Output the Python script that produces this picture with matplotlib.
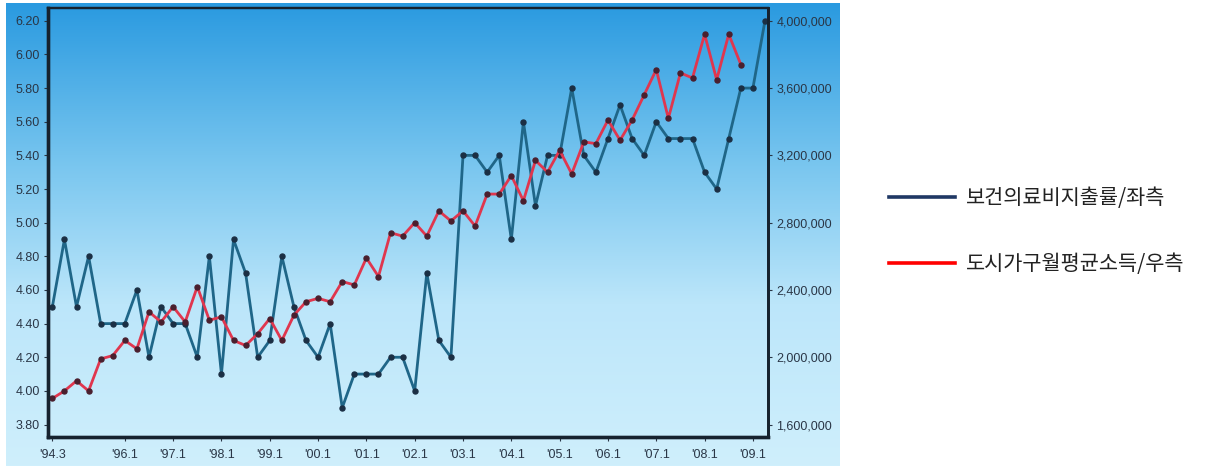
import numpy as np
import matplotlib
matplotlib.use("Agg")
import matplotlib.pyplot as plt
from matplotlib.colors import LinearSegmentedColormap
from matplotlib.ticker import FuncFormatter

plt.rcParams['font.family'] = ['Liberation Sans', 'Noto Sans CJK KR', 'DejaVu Sans']

# Quarterly series, '94.3 through '09.2
quarters = ["'94.3", "'94.4"] + ["'%02d.%d" % (y % 100, q)
                                 for y in range(1995, 2010) for q in (1, 2, 3, 4)]
quarters = quarters[:60]

# health/medical spending share (%), left axis
health_ratio = [4.50, 4.90, 4.50, 4.80, 4.40, 4.40, 4.40, 4.60, 4.20, 4.50,
                4.40, 4.40, 4.20, 4.80, 4.10, 4.90, 4.70, 4.20, 4.30, 4.80,
                4.50, 4.30, 4.20, 4.40, 3.90, 4.10, 4.10, 4.10, 4.20, 4.20,
                4.00, 4.70, 4.30, 4.20, 5.40, 5.40, 5.30, 5.40, 4.90, 5.60,
                5.10, 5.40, 5.40, 5.80, 5.40, 5.30, 5.50, 5.70, 5.50, 5.40,
                5.60, 5.50, 5.50, 5.50, 5.30, 5.20, 5.50, 5.80, 5.80, 6.20]

# urban household average monthly income (won), right axis
income = [1755000, 1800000, 1860000, 1800000, 1990000, 2010000, 2100000, 2050000,
          2270000, 2210000, 2300000, 2210000, 2420000, 2220000, 2240000, 2100000,
          2070000, 2140000, 2230000, 2100000, 2250000, 2330000, 2350000, 2330000,
          2450000, 2430000, 2590000, 2480000, 2740000, 2720000, 2800000, 2720000,
          2870000, 2810000, 2870000, 2780000, 2970000, 2970000, 3080000, 2930000,
          3170000, 3100000, 3230000, 3090000, 3280000, 3270000, 3410000, 3290000,
          3410000, 3560000, 3710000, 3420000, 3690000, 3660000, 3920000, 3650000,
          3920000, 3740000]

left_ticks = [3.80, 4.00, 4.20, 4.40, 4.60, 4.80, 5.00, 5.20, 5.40, 5.60, 5.80, 6.00, 6.20]
right_ticks = [1600000, 2000000, 2400000, 2800000, 3200000, 3600000, 4000000]
xtick_labels = ["'94.3", "'96.1", "'97.1", "'98.1", "'99.1", "'00.1",
                "'01.1", "'02.1", "'03.1", "'04.1", "'05.1", "'06.1",
                "'07.1", "'08.1", "'09.1"]

W, H = 1213, 466
fig = plt.figure(figsize=(W / 100, H / 100), dpi=100)

# sky gradient behind the chart panel
bg = fig.add_axes([6 / W, 0, (840 - 6) / W, (H - 3) / H])
sky = LinearSegmentedColormap.from_list(
    'sky', [(0.0, '#cfeffc'), (0.35, '#bce6fa'), (0.65, '#79c6ef'), (1.0, '#2a9ae0')])
bg.imshow(np.linspace(0, 1, 256).reshape(-1, 1), aspect='auto', cmap=sky,
          origin='lower', extent=[0, 1, 0, 1])
bg.set_axis_off()

ax = fig.add_axes([48 / W, 1 - 437 / H, (768 - 48) / W, (437 - 8) / H])
ax.set_facecolor('none')
ax2 = ax.twinx()

x = np.arange(len(quarters))
tick_col = '#2a3646'
frame_col = '#16222e'

ax.plot(x, health_ratio, color='#1f6688', lw=2.0, marker='o', ms=3.6,
        mfc='#1b2f44', mec='#1b2f44', zorder=3)
ax2.plot(x[:len(income)], income, color='#e0364e', lw=2.0, marker='o', ms=3.6,
         mfc='#4a1f2e', mec='#4a1f2e', zorder=2)

ax.set_xlim(-0.36, 59.25)
ax.set_ylim(3.726, 6.276)
ax2.set_ylim(1526000, 4076000)

ax.set_yticks(left_ticks)
ax.yaxis.set_major_formatter(FuncFormatter(lambda v, p: '%.2f' % v))
ax2.set_yticks(right_ticks)
ax2.yaxis.set_major_formatter(FuncFormatter(lambda v, p: '{:,.0f}'.format(v)))

xt = [quarters.index(lbl) for lbl in xtick_labels]
ax.set_xticks(xt)
ax.set_xticklabels(xtick_labels)

for a in (ax, ax2):
    a.tick_params(labelsize=9, colors=tick_col, length=3, width=0.8, pad=3)
    for s in a.spines.values():
        s.set_color(frame_col)
    a.spines['left'].set_linewidth(2.4)
    a.spines['bottom'].set_linewidth(2.4)
    a.spines['right'].set_linewidth(2.0)
    a.spines['top'].set_linewidth(1.6)
ax.tick_params(axis='x', pad=6)

handles = [plt.Line2D([], [], color='#1f3864', lw=2.6),
           plt.Line2D([], [], color='#ff0000', lw=2.6)]
fig.legend(handles, ['보건의료비지출률/좌측', '도시가구월평균소득/우측'],
           loc='center left', bbox_to_anchor=(870 / W, 1 - 231 / H),
           frameon=False, handlelength=3.2, handletextpad=0.5,
           labelspacing=2.1, labelcolor='#222222',
           prop={'family': ['Noto Sans CJK KR', 'DejaVu Sans'], 'size': 15})

fig.savefig('out.png', dpi=100)
